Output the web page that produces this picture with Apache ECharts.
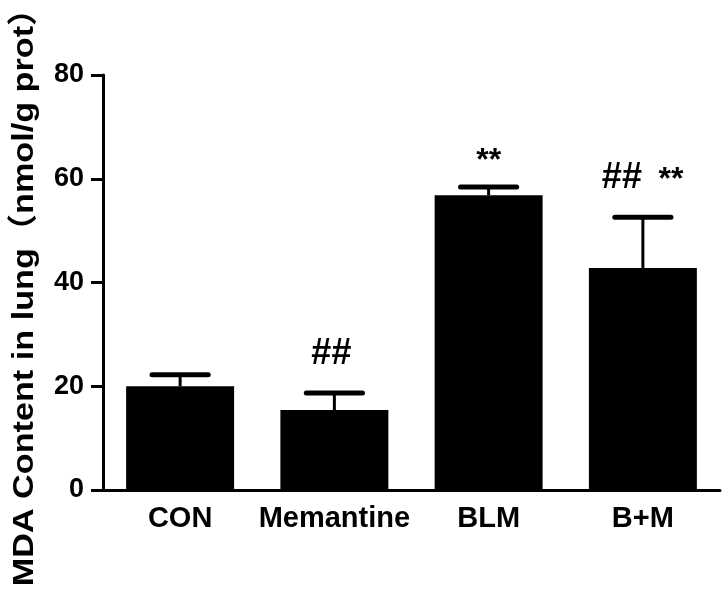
<!DOCTYPE html>
<html><head><meta charset="utf-8">
<script src="https://cdn.jsdelivr.net/npm/echarts@6/dist/echarts.min.js"></script>
<style>html,body{margin:0;padding:0;background:#fff}#c{width:728px;height:593px}</style>
</head><body><div id="c"></div>
<script>
const categories = ["CON", "Memantine", "BLM", "B+M"];
const means = [20, 15.4, 56.8, 42.8];
const errors = [2.2, 3.3, 1.6, 9.8];
const hashMarks = ["", "##", "", "##"];
const starMarks = ["", "", "**", "**"];
const yTicks = [0, 20, 40, 60, 80];
const yTitle = "MDA Content in lung（nmol/g prot）";

const FONT = "'Liberation Sans', Arial, 'Noto Sans CJK SC', sans-serif";
const chart = echarts.init(document.getElementById('c'));
const errData = categories.map((c, i) => [i, means[i], means[i] + errors[i], hashMarks[i], starMarks[i]]);

chart.setOption({
  animation: false,
  grid: { left: 103, right: 8, top: 75, bottom: 103 },
  graphic: [{
    type: 'text', x: 25, y: 289, rotation: Math.PI / 2, scaleX: 1.14,
    style: { text: yTitle, fill: '#000', fontSize: 30, fontWeight: 'bold', fontFamily: FONT,
      align: 'center', verticalAlign: 'middle' }
  }],
  xAxis: {
    type: 'category', data: categories,
    axisLine: { lineStyle: { color: '#000', width: 3 } },
    axisTick: { alignWithLabel: true, length: 11, lineStyle: { color: '#000', width: 3 } },
    axisLabel: { interval: 0, color: '#000', fontSize: 29, fontWeight: 'bold', fontFamily: FONT, margin: 14 }
  },
  yAxis: {
    type: 'value', min: yTicks[0], max: yTicks[yTicks.length - 1], interval: 20,
    axisLine: { show: true, lineStyle: { color: '#000', width: 3 } },
    axisTick: { show: true, length: 12, lineStyle: { color: '#000', width: 3 } },
    axisLabel: { color: '#000', fontSize: 27, fontWeight: 'bold', fontFamily: FONT, margin: 19 },
    splitLine: { show: false }
  },
  series: [
    {
      type: 'bar', data: means, barWidth: '70%', z: 2,
      itemStyle: { color: '#000' }
    },
    {
      type: 'custom', z: 3,
      data: errData,
      encode: { x: 0, y: [1, 2] },
      renderItem: function (params, api) {
        const x = api.value(0);
        const base = api.coord([x, api.value(1)]);
        const top = api.coord([x, api.value(2)]);
        const bw = api.size([1, 0])[0] * 0.7;
        const capHalf = bw * 0.26;
        const hash = api.value(3);
        const star = api.value(4);
        const children = [
          { type: 'line', shape: { x1: base[0], y1: base[1], x2: top[0], y2: top[1] },
            style: { stroke: '#000', lineWidth: 3 } },
          { type: 'line', shape: { x1: top[0] - capHalf, y1: top[1], x2: top[0] + capHalf, y2: top[1] },
            style: { stroke: '#000', lineWidth: 5, lineCap: 'round' } }
        ];
        const both = hash && star;
        if (hash) {
          children.push({ type: 'text', x: top[0] + (both ? -21 : -3), y: top[1] - 21,
            style: { text: hash, fill: '#000', fontSize: 36, fontWeight: 'bold', fontFamily: FONT,
              align: 'center', verticalAlign: 'bottom' } });
        }
        if (star) {
          children.push({ type: 'text', x: top[0] + (both ? 28 : 0), y: top[1] - (both ? 21 : 10),
            style: { text: star, fill: '#000', fontSize: 32, fontWeight: 'bold', fontFamily: FONT,
              align: 'center', verticalAlign: 'bottom' } });
        }
        return { type: 'group', children: children };
      }
    }
  ]
});
</script></body></html>
